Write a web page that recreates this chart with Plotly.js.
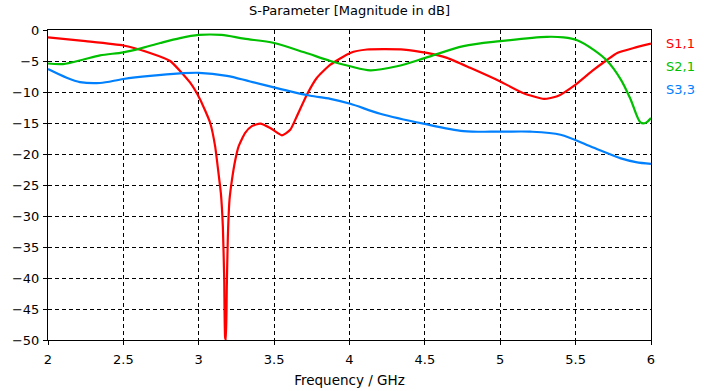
<!DOCTYPE html>
<html><head><meta charset="utf-8">
<script src="https://cdn.plot.ly/plotly-3.0.1.min.js"></script>
<style>body{margin:0;background:#fff}#c{width:724px;height:391px}</style>
</head><body><div id="c"></div>
<script>
const s11Freq = [2.0,2.25,2.5,2.677,2.81,2.943,3.009,3.076,3.109,3.131,3.147,3.160,3.169,3.175,3.180,3.186,3.193,3.204,3.220,3.242,3.264,3.308,3.352,3.408,3.474,3.552,3.607,3.651,3.718,3.784,3.873,4.005,4.116,4.36,4.514,4.647,4.80,5.0,5.155,5.29,5.378,5.5,5.61,5.71,5.776,5.885,6.0];
const s11 = [-1.2,-1.8,-2.5,-3.7,-5.0,-8.5,-11.2,-15.0,-18.8,-23.1,-26.4,-31.8,-40.4,-49.6,-50,-41.5,-33.4,-27.4,-24.2,-21.0,-18.8,-16.6,-15.5,-15.1,-15.8,-17.0,-16.1,-13.9,-10.4,-7.7,-5.6,-3.7,-3.15,-3.15,-3.7,-4.5,-6.1,-8.3,-10.2,-11.1,-10.7,-8.8,-6.6,-4.8,-3.7,-2.9,-2.2];
const s21Freq = [2.0,2.1,2.23,2.345,2.5,2.61,2.744,2.876,3.0,3.15,3.3,3.5,3.7,3.873,4.005,4.138,4.315,4.503,4.756,5.0,5.31,5.42,5.51,5.62,5.71,5.80,5.865,5.93,5.963,6.0];
const s21 = [-5.4,-5.5,-4.8,-4.1,-3.6,-3.0,-2.1,-1.3,-0.8,-0.8,-1.4,-2.1,-3.6,-5.0,-5.85,-6.5,-5.85,-4.5,-2.6,-1.8,-1.1,-1.2,-1.65,-3.2,-5.0,-8.0,-11.2,-14.9,-15.0,-14.2];
const s33Freq = [2.0,2.124,2.212,2.345,2.5,2.677,2.876,3.0,3.187,3.341,3.607,3.74,3.873,4.005,4.204,4.49,4.756,5.0,5.2,5.4,5.6,5.8,5.9,6.0];
const s33 = [-6.3,-7.7,-8.4,-8.55,-7.9,-7.4,-7.0,-6.9,-7.4,-8.3,-9.9,-10.6,-11.1,-11.9,-13.5,-15.1,-16.3,-16.4,-16.4,-16.9,-18.8,-20.7,-21.3,-21.6];
const names = ['S1,1','S2,1','S3,3'];
const colors = ['#ff0000','#00c000','#0080ff'];
const xTicks = [2,2.5,3,3.5,4,4.5,5,5.5,6];
const xTickText = ['2','2.5','3','3.5','4','4.5','5','5.5','6'];
const yTicks = [0,-5,-10,-15,-20,-25,-30,-35,-40,-45,-50];

const font = 'DejaVu Sans, Verdana, sans-serif';
const xs = [s11Freq,s21Freq,s33Freq], ys=[s11,s21,s33];
const traces = xs.map((x,i)=>({x:x,y:ys[i],type:'scatter',mode:'lines',name:names[i],cliponaxis:true,
  line:{color:colors[i],width:2.2,shape:'spline',smoothing:i===0?0.5:0.9},hoverinfo:'skip'}));

const annotations = names.map((n,i)=>({xref:'paper',yref:'paper',x:1,y:1-(0.045+i*0.073),xanchor:'left',yanchor:'middle',
  xshift:13,text:n,showarrow:false,font:{family:font,size:13,color:colors[i]}}));

const layout = {
  width:724,height:391,margin:{l:48,r:73,t:30,b:51},
  paper_bgcolor:'#fff',plot_bgcolor:'#fff',showlegend:false,
  title:{text:'S-Parameter [Magnitude in dB]',xref:'paper',x:0.5,xanchor:'center',yref:'container',y:0.972,yanchor:'middle',font:{family:font,size:13,color:'#000'}},
  xaxis:{range:[2,6],tickvals:xTicks,ticktext:xTickText,showgrid:true,gridcolor:'#000',griddash:'4px,3px',gridwidth:1,
    showline:true,linecolor:'#000',linewidth:1,mirror:true,ticks:'outside',ticklen:4,tickcolor:'#000',ticklabelstandoff:3,
    zeroline:false,tickfont:{family:font,size:13,color:'#000'},
    title:{text:'Frequency / GHz',font:{family:font,size:13.5,color:'#000'},standoff:9}},
  yaxis:{range:[-50,0],tickvals:yTicks,showgrid:true,gridcolor:'#000',griddash:'4px,3px',gridwidth:1,
    showline:true,linecolor:'#000',linewidth:1,mirror:true,ticks:'outside',ticklen:4,tickcolor:'#000',ticklabelstandoff:1,
    zeroline:false,tickfont:{family:font,size:13,color:'#000'}},
  annotations:annotations
};
Plotly.newPlot('c',traces,layout,{staticPlot:true});
</script></body></html>
